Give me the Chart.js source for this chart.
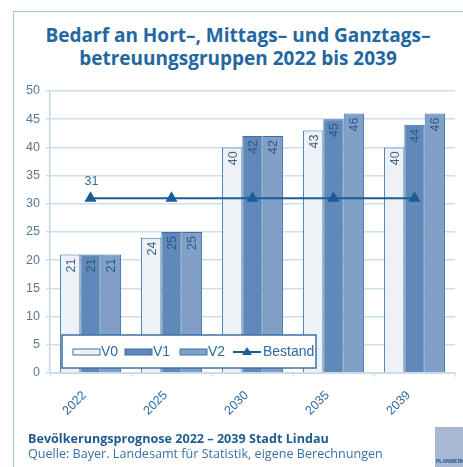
<!DOCTYPE html>
<html>
<head>
<meta charset="utf-8">
<script src="https://cdn.jsdelivr.net/npm/chart.js@4/dist/chart.umd.min.js"></script>
<style>
  body { margin: 0; background: #fff; }
  #wrap { position: relative; width: 463px; height: 467px; overflow: hidden; }
  #frame { position: absolute; left: 13px; top: 11px; width: 460px; height: 470px;
           border-left: 1.5px solid #a3c3de; border-top: 1.5px solid #a3c3de; }
  #title { position: absolute; left: 13px; width: 450px; top: 24px; text-align: center;
           font: bold 19px "Open Sans", sans-serif; line-height: 23px; color: #2367a1; }
  #foot { position: absolute; left: 28px; top: 431px; font: 12.6px "Open Sans", sans-serif;
          line-height: 15px; color: #3a70a5; }
  #foot b { color: #1f5b93; }
  #logo { position: absolute; left: 435px; top: 427px; width: 30px; height: 42px; background: #a7b8d3; }
  #logo span { position: absolute; left: 1px; top: 31px; font: bold 5px "Liberation Sans", sans-serif; color: #1f4f8a; }
  canvas { position: absolute; left: 0; top: 0; }
</style>
</head>
<body>
<div id="wrap">
  <div id="frame"></div>
  <div id="title">Bedarf an Hort–, Mittags– und Ganztags–<br>betreuungsgruppen 2022 bis 2039</div>
  <canvas id="chart" width="463" height="467"></canvas>
  <div id="foot"><b>Bevölkerungsprognose 2022 – 2039 Stadt Lindau</b><br>Quelle: Bayer. Landesamt für Statistik, eigene Berechnungen</div>
  <div id="logo"><span>PLANWERK</span></div>
</div>
<script>
const years = ['2022', '2025', '2030', '2035', '2039'];
const v0 = [21, 24, 40, 43, 40];
const v1 = [21, 25, 42, 45, 44];
const v2 = [21, 25, 42, 46, 46];
const bestand = [31, 31, 31, 31, 31];

const blue = '#3a72a8';
const dark = '#1c5d97';

// value labels, rotated, inside the top of each bar
const barLabels = {
  id: 'barLabels',
  afterDatasetsDraw(chart) {
    const ctx = chart.ctx;
    ctx.save();
    ctx.font = '12.5px "Liberation Sans", sans-serif';
    chart.data.datasets.forEach((ds, i) => {
      const meta = chart.getDatasetMeta(i);
      if (ds.type === 'line') {
        // only the first point is labelled
        const p = meta.data[0];
        ctx.fillStyle = '#3d6d9c';
        ctx.textAlign = 'center';
        ctx.textBaseline = 'middle';
        ctx.fillText(String(ds.data[0]), p.x + 1, p.y - 17);
        return;
      }
      meta.data.forEach((bar, j) => {
        ctx.save();
        ctx.translate(bar.x, bar.y + 4);
        ctx.rotate(-Math.PI / 2);
        ctx.textAlign = 'right';
        ctx.textBaseline = 'middle';
        ctx.fillStyle = i === 0 ? '#3a648f' : '#2d5986';
        ctx.fillText(String(ds.data[j]), 0, 1);
        ctx.restore();
      });
    });
    ctx.restore();
  }
};

// legend box drawn inside the plot area
const boxLegend = {
  id: 'boxLegend',
  afterDatasetsDraw(chart) {
    const ctx = chart.ctx;
    ctx.save();
    ctx.fillStyle = '#fff';
    ctx.strokeStyle = blue;
    ctx.lineWidth = 1.5;
    ctx.fillRect(62, 335, 254, 33);
    ctx.strokeRect(62, 335, 254, 33);
    ctx.font = '14px "Liberation Sans", sans-serif';
    ctx.textBaseline = 'middle';
    const cy = 352;
    const xs = [73, 125, 180];
    chart.data.datasets.forEach((ds, i) => {
      if (ds.type === 'line') {
        ctx.strokeStyle = dark;
        ctx.lineWidth = 2;
        ctx.beginPath();
        ctx.moveTo(233, cy);
        ctx.lineTo(261, cy);
        ctx.stroke();
        ctx.fillStyle = dark;
        ctx.beginPath();
        ctx.moveTo(247, cy - 5);
        ctx.lineTo(252, cy + 3);
        ctx.lineTo(242, cy + 3);
        ctx.closePath();
        ctx.fill();
        ctx.fillStyle = '#2e6aa0';
        ctx.fillText(ds.label, 263, cy);
        return;
      }
      const x = xs[i];
      ctx.fillStyle = ds.backgroundColor;
      ctx.strokeStyle = blue;
      ctx.lineWidth = 1;
      ctx.fillRect(x, cy - 3, 27, 6);
      ctx.strokeRect(x, cy - 3, 27, 6);
      ctx.fillStyle = '#2e6aa0';
      ctx.fillText(ds.label, x + 28, cy);
    });
    ctx.restore();
  }
};

new Chart(document.getElementById('chart'), {
  data: {
    labels: years,
    datasets: [
      { type: 'bar', label: 'V0', data: v0, backgroundColor: '#eef1f6', borderColor: blue, borderWidth: 1, order: 1 },
      { type: 'bar', label: 'V1', data: v1, backgroundColor: '#6088b8', borderColor: blue, borderWidth: 1, order: 1 },
      { type: 'bar', label: 'V2', data: v2, backgroundColor: '#819fc7', borderColor: blue, borderWidth: 1, order: 1 },
      { type: 'line', label: 'Bestand', data: bestand, borderColor: dark, backgroundColor: dark, borderWidth: 2,
        pointStyle: 'triangle', pointRadius: 5, order: 0 }
    ]
  },
  options: {
    responsive: false,
    animation: false,
    layout: { padding: { left: 10, right: 8, top: 91, bottom: 49 } },
    datasets: { bar: { barPercentage: 1, categoryPercentage: 0.755 } },
    plugins: { legend: { display: false }, tooltip: { enabled: false } },
    scales: {
      x: {
        afterFit(s) { s.height = 45; },
        grid: { drawOnChartArea: false, color: '#c9dbea', tickLength: 4 },
        border: { color: '#c9dbea' },
        ticks: { minRotation: 45, maxRotation: 45, color: '#2e6aa0', padding: 11, labelOffset: -6,
                 font: { family: '"Liberation Sans", sans-serif', size: 12.5 } }
      },
      y: {
        min: 0, max: 50,
        afterFit(s) { s.width = 40; },
        grid: { color: '#cddeec', lineWidth: 1.5, tickLength: 4 },
        border: { color: '#c2d6e8', width: 1.5 },
        ticks: { stepSize: 5, color: '#587799', padding: 6,
                 font: { family: '"Liberation Sans", sans-serif', size: 12.5 } }
      }
    }
  },
  plugins: [barLabels, boxLegend]
});
</script>
</body>
</html>
